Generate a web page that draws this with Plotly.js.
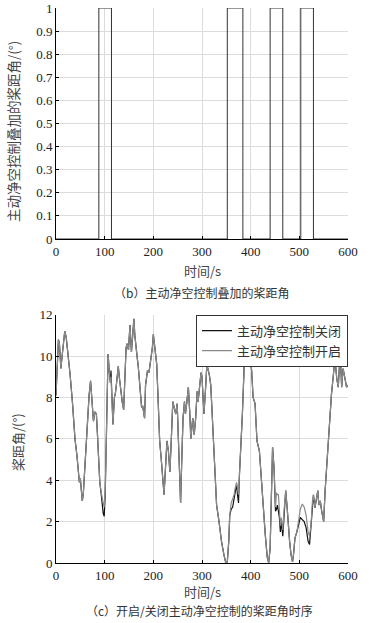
<!DOCTYPE html>
<html>
<head>
<meta charset="utf-8">
<script src="https://cdn.plot.ly/plotly-3.0.1.min.js"></script>
<style>html,body{margin:0;padding:0;background:#fff;}#chart{width:372px;height:623px;}</style>
</head>
<body>
<div id="chart"></div>
<script>
// Top panel (b): pulse-shaped added pitch angle (step changes)
const pulseTime = [0, 88, 114, 352, 384, 440, 466, 503, 529, 600];
const pulseValue = [0, 1, 0, 1, 0, 1, 0, 1, 0, 0];

// Bottom panel (c): pitch angle time series
const timeS = [0,3,5,7,10,13,16,18,21,25,29,34,39,43,46,48,50,52,54,56,58,61,64,68,71,74,77,80,83,85,87,90,93,95,97,99,101,103,105,107,110,112,113,115,117,120,122,124,126,128,130,132,134,136,139,142,144,146,149,152,155,157,160,162,164,167,169,172,176,178,180,182,184,186,188,191,194,196,198,200,202,204,207,210,213,216,218,220,222,225,228,231,234,237,240,243,246,249,251,254,256,258,261,264,266,269,272,275,277,279,281,284,287,290,292,295,298,300,302,304,307,310,313,315,318,320,323,327,330,335,340,345,349,352,355,357,360,363,366,368,371,373,375,377,380,383,386,388,391,393,395,398,402,405,409,413,418,422,426,430,434,437,440,442,445,448,451,453,455,457,459,461,463,466,469,472,475,477,480,483,486,488,491,495,499,502,506,510,514,518,521,524,527,529,532,535,538,540,543,546,550,553,556,560,563,566,570,573,577,580,584,587,590,594,597,600];
const pitchOff = [8.1,10.0,10.8,10.6,9.4,10.1,10.9,11.2,10.9,10.1,9.1,7.7,6.0,5.2,4.3,3.9,4.1,3.5,3.0,3.3,4.1,5.4,7.0,8.1,8.8,7.5,6.85,7.3,7.2,6.3,5.1,3.9,3.3,2.7,2.4,2.25,3.2,5.5,8.3,10.1,9.1,8.7,9.3,8.0,6.7,8.0,8.2,8.6,9.0,9.5,9.0,8.5,8.0,7.8,7.4,8.8,10.4,10.6,10.3,11.5,10.2,10.8,11.8,11.0,10.4,9.9,9.5,8.5,7.5,7.6,7.2,7.0,8.6,9.0,9.3,9.2,9.75,9.9,10.4,11.05,10.6,10.2,9.6,7.8,5.9,5.1,4.4,3.8,3.3,4.6,5.9,5.4,4.4,6.0,7.8,7.5,7.2,7.7,6.2,4.6,2.9,4.6,7.0,7.8,7.2,7.8,8.5,7.2,6.0,6.5,7.0,6.2,7.0,8.3,7.8,8.5,9.2,9.0,8.0,7.2,8.3,9.6,9.3,9.1,8.6,7.5,5.9,4.3,2.8,2.0,1.05,0.4,0.0,0.05,1.05,2.3,2.6,2.7,3.2,3.4,3.8,3.3,2.9,4.3,5.6,7.2,9.1,10.7,11.0,11.2,10.6,10.2,9.3,8.0,7.7,5.9,5.4,3.95,2.66,1.37,0.3,0.0,0.7,3.5,5.6,4.6,2.5,2.6,2.8,2.5,2.2,1.5,2.0,1.3,2.66,3.5,2.66,1.85,1.05,0.4,0.05,0.4,1.2,1.5,1.85,2.2,2.1,2.0,1.7,1.05,0.9,1.85,3.0,3.3,2.66,3.15,3.5,2.8,3.0,2.5,2.0,3.5,4.6,5.9,7.0,8.15,9.1,9.9,8.9,8.5,10.2,8.5,9.4,8.9,8.5,8.6];
const pitchOn = [8.1,10.0,10.8,10.6,9.4,10.1,10.9,11.2,10.9,10.1,9.1,7.7,6.0,5.2,4.3,3.9,4.1,3.5,3.0,3.3,4.1,5.4,7.0,8.1,8.8,7.5,6.85,7.3,7.2,6.3,5.1,3.9,3.4,3.0,2.9,2.7,3.4,5.5,8.3,10.1,9.1,8.7,9.0,8.0,6.7,8.0,8.2,8.6,9.0,9.5,9.0,8.5,8.0,7.8,7.4,8.8,10.4,10.6,10.3,11.5,10.2,10.8,11.8,11.0,10.4,9.9,9.5,8.5,7.5,7.6,7.2,7.0,8.6,9.0,9.3,9.2,9.75,9.9,10.4,11.05,10.6,10.2,9.6,7.8,5.9,5.1,4.4,3.8,3.3,4.6,5.9,5.4,4.4,6.0,7.8,7.5,7.2,7.7,6.2,4.6,2.9,4.6,7.0,7.8,7.2,7.8,8.5,7.2,6.0,6.5,7.0,6.2,7.0,8.3,7.8,8.5,9.2,9.0,8.0,7.2,8.3,9.6,9.3,9.1,8.6,7.5,5.9,4.3,2.8,2.0,1.05,0.4,0.0,0.05,1.05,2.3,2.9,3.1,3.3,3.6,3.9,3.6,3.3,4.3,5.6,7.2,9.1,10.7,11.0,11.2,10.6,10.2,9.3,8.0,7.7,5.9,5.4,3.95,2.66,1.37,0.3,0.0,0.7,3.5,5.6,4.6,2.7,3.4,3.3,3.3,2.6,1.8,2.2,1.6,2.66,3.5,2.66,1.85,1.05,0.4,0.05,0.4,1.2,1.5,2.2,2.6,2.85,2.7,2.3,1.5,1.3,1.85,3.0,3.3,2.66,3.15,3.5,2.8,3.0,2.5,2.0,3.5,4.6,5.9,7.0,8.15,9.1,9.9,8.9,8.5,10.2,8.5,9.4,8.9,8.5,8.6];

const legendNames = ['主动净空控制关闭', '主动净空控制开启'];
const xTitle = '时间/s';
const yTitleTop = '主动净空控制叠加的桨距角/(°)';
const yTitleBottom = '桨距角/(°)';
const captionTop = '（b）主动净空控制叠加的桨距角';
const captionBottom = '（c）开启/关闭主动净空控制的桨距角时序';

const numFont = {family: 'Liberation Serif, serif', size: 13, color: '#222'};
const cjkFont = {family: "'Noto Sans CJK SC', sans-serif", size: 13, color: '#444'};
const capFont = {family: "'Noto Sans CJK SC', sans-serif", size: 12, color: '#333'};

const traces = [
  {x: pulseTime, y: pulseValue, type: 'scatter', mode: 'lines', line: {shape: 'hv', color: '#333', width: 1},
   xaxis: 'x', yaxis: 'y', showlegend: false},
  {x: timeS, y: pitchOff, type: 'scatter', mode: 'lines', name: legendNames[0], line: {color: '#111', width: 1.2},
   xaxis: 'x2', yaxis: 'y2'},
  {x: timeS, y: pitchOn, type: 'scatter', mode: 'lines', name: legendNames[1], line: {color: '#8a8a8a', width: 1.2},
   xaxis: 'x2', yaxis: 'y2'}
];

const xDom = [56/372, 348/372];
const axBase = {showline: true, linecolor: '#000', linewidth: 1, gridcolor: '#dcdcdc', gridwidth: 1,
  ticks: 'inside', ticklen: 3, tickcolor: '#000', tickfont: numFont, zeroline: false, mirror: false};

const topY0 = 1 - 239/623, topY1 = 1 - 8/623;
const botY0 = 1 - 563/623, botY1 = 1 - 314.7/623;

const layout = {
  width: 372, height: 623,
  margin: {l: 0, r: 0, t: 0, b: 0},
  paper_bgcolor: '#fff', plot_bgcolor: '#fff',
  showlegend: true,
  xaxis: Object.assign({}, axBase, {domain: xDom, range: [0, 600], dtick: 100, anchor: 'y'}),
  yaxis: Object.assign({}, axBase, {domain: [topY0, topY1], range: [0, 1], dtick: 0.1, anchor: 'x'}),
  xaxis2: Object.assign({}, axBase, {domain: xDom, range: [0, 600], dtick: 100, anchor: 'y2'}),
  yaxis2: Object.assign({}, axBase, {domain: [botY0, botY1], range: [0, 12], dtick: 2, anchor: 'x2'}),
  legend: {x: 348/372, xanchor: 'right', y: botY1, yanchor: 'top', bgcolor: '#fff',
    bordercolor: '#333', borderwidth: 1, font: {family: "'Noto Sans CJK SC', sans-serif", size: 13, color: '#333'},
    tracegroupgap: 0},
  annotations: [
    {text: xTitle, xref: 'paper', yref: 'paper', x: 202/372, y: 1 - 270/623, xanchor: 'center', yanchor: 'middle',
     showarrow: false, font: cjkFont},
    {text: xTitle, xref: 'paper', yref: 'paper', x: 202/372, y: 1 - 591/623, xanchor: 'center', yanchor: 'middle',
     showarrow: false, font: cjkFont},
    {text: yTitleTop, xref: 'paper', yref: 'paper', x: 13/372, y: 1 - 132/623, xanchor: 'center', yanchor: 'middle',
     textangle: -90, showarrow: false, font: Object.assign({}, cjkFont, {size: 13.5})},
    {text: yTitleBottom, xref: 'paper', yref: 'paper', x: 17/372, y: 1 - 442/623, xanchor: 'center', yanchor: 'middle',
     textangle: -90, showarrow: false, font: cjkFont},
    {text: captionTop, xref: 'paper', yref: 'paper', x: 201/372, y: 1 - 292/623, xanchor: 'center', yanchor: 'middle',
     showarrow: false, font: capFont},
    {text: captionBottom, xref: 'paper', yref: 'paper', x: 199/372, y: 1 - 610/623, xanchor: 'center', yanchor: 'middle',
     showarrow: false, font: capFont}
  ]
};

Plotly.newPlot('chart', traces, layout, {staticPlot: true, displayModeBar: false});
</script>
</body>
</html>
